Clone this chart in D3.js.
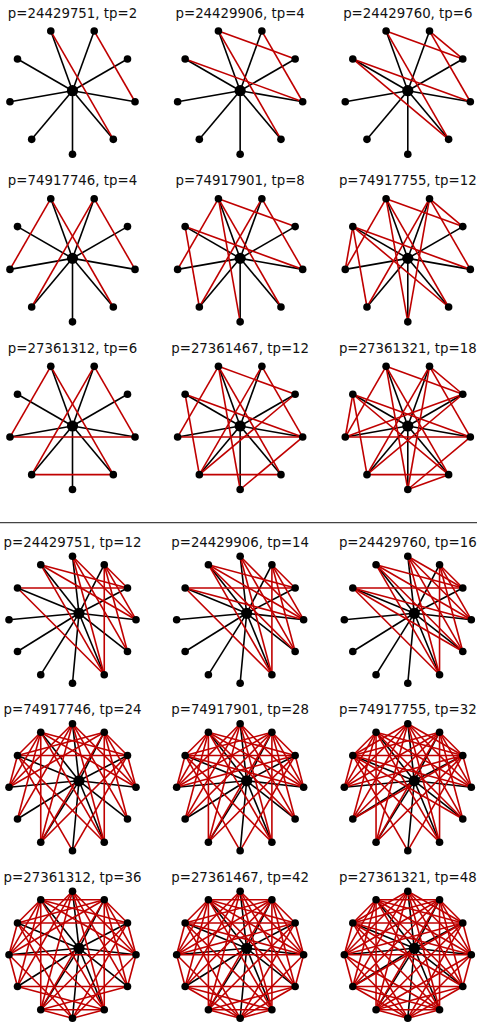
<!DOCTYPE html>
<html>
<head>
<meta charset="utf-8">
<script src="https://cdn.jsdelivr.net/npm/d3@7"></script>
<style>
  html, body { margin: 0; padding: 0; background: #fff; }
  svg { display: block; }
</style>
</head>
<body>
<svg id="chart" width="477" height="1028"></svg>
<script>
// ---------- DATA ----------
const pValues = [
  [24429751, 24429906, 24429760],
  [74917746, 74917901, 74917755],
  [27361312, 27361467, 27361321]
];
const tpTop = [[2, 4, 6], [4, 8, 12], [6, 12, 18]];
const tpBottom = [[12, 14, 16], [24, 28, 32], [36, 42, 48]];

// top half: 9 outer nodes (node k sits at angle 90 + 40k degrees, screen coordinates)
const topEdges = [
  [ [[4,8],[5,7]],
    [[4,8],[5,7],[4,6],[3,7]],
    [[4,8],[5,7],[4,6],[3,7],[5,6],[3,8]] ],
  [ [[4,8],[5,7],[4,2],[5,1]],
    [[4,8],[5,7],[4,6],[3,7],[4,2],[5,1],[3,1],[4,0]],
    [[4,8],[5,7],[4,6],[3,7],[5,6],[3,8],[4,2],[5,1],[3,1],[4,0],[3,2],[5,0]] ],
  [ [[4,8],[5,7],[4,2],[5,1],[2,7],[1,8]],
    [[4,8],[5,7],[4,6],[3,7],[4,2],[5,1],[3,1],[4,0],[2,7],[1,8],[6,1],[7,0]],
    [[4,8],[5,7],[4,6],[3,7],[5,6],[3,8],[4,2],[5,1],[3,1],[4,0],[3,2],[5,0],[2,7],[1,8],[6,1],[7,0],[6,2],[8,0]] ]
];

// bottom half: 12 outer nodes (node k at angle 90 + 30k degrees)
const bottomEdges = [
  [ [[4,8],[5,8],[7,8],[5,9],[6,9],[7,9],[6,10],[7,10],[4,11],[5,11],[6,11],[7,11]],
    [[4,8],[5,8],[7,8],[5,9],[6,9],[7,9],[6,10],[7,10],[4,11],[5,11],[6,11],[7,11],[4,9],[5,10]],
    [[4,8],[5,8],[7,8],[5,9],[6,9],[7,9],[6,10],[7,10],[4,11],[5,11],[6,11],[7,11],[4,9],[5,10],[4,10],[6,8]] ],
  [ [[4,8],[5,8],[7,8],[5,9],[6,9],[7,9],[6,10],[7,10],[4,11],[5,11],[6,11],[7,11],
     [4,7],[4,5],[3,7],[3,6],[3,5],[2,6],[2,5],[1,8],[1,7],[1,6],[1,5],[0,4],[0,8],[3,4],[8,9]],
    [[4,8],[5,8],[7,8],[5,9],[6,9],[7,9],[6,10],[7,10],[4,11],[5,11],[6,11],[7,11],[4,9],[5,10],
     [4,7],[4,5],[3,7],[3,6],[3,5],[2,6],[2,5],[1,8],[1,7],[1,6],[1,5],[3,8],[2,7],[0,4],[0,8],[3,4],[8,9]],
    [[4,8],[5,8],[7,8],[5,9],[6,9],[7,9],[6,10],[7,10],[4,11],[5,11],[6,11],[7,11],[4,9],[5,10],[4,10],[6,8],
     [4,7],[4,5],[3,7],[3,6],[3,5],[2,6],[2,5],[1,8],[1,7],[1,6],[1,5],[3,8],[2,7],[2,8],[4,6],[0,4],[0,8],[3,4],[8,9]] ],
  [ [[4,8],[5,8],[7,8],[5,9],[6,9],[7,9],[6,10],[7,10],[4,11],[5,11],[6,11],[7,11],
     [4,7],[4,5],[3,7],[3,6],[3,5],[2,6],[2,5],[1,8],[1,7],[1,6],[1,5],[0,4],[0,8],[3,4],[8,9],
     [3,9],[2,10],[1,11],[0,1],[0,11],[2,3],[9,10],[2,11],[1,10],[0,3],[0,9],[5,7]],
    [[4,8],[5,8],[7,8],[5,9],[6,9],[7,9],[6,10],[7,10],[4,11],[5,11],[6,11],[7,11],[4,9],[5,10],
     [4,7],[4,5],[3,7],[3,6],[3,5],[2,6],[2,5],[1,8],[1,7],[1,6],[1,5],[3,8],[2,7],[0,4],[0,8],[3,4],[8,9],
     [3,9],[2,10],[1,11],[0,1],[0,11],[2,3],[9,10],[2,11],[1,10],[0,3],[0,9],[5,7],[0,2],[0,10]],
    [[4,8],[5,8],[7,8],[5,9],[6,9],[7,9],[6,10],[7,10],[4,11],[5,11],[6,11],[7,11],[4,9],[5,10],[4,10],[6,8],
     [4,7],[4,5],[3,7],[3,6],[3,5],[2,6],[2,5],[1,8],[1,7],[1,6],[1,5],[3,8],[2,7],[2,8],[4,6],[0,4],[0,8],[3,4],[8,9],
     [3,9],[2,10],[1,11],[0,1],[0,11],[2,3],[9,10],[2,11],[1,10],[0,3],[0,9],[5,7],[0,2],[0,10],[1,9],[3,11]] ]
];

// ---------- LAYOUT ----------
const svg = d3.select("#chart");
const RED = "#c00000";
const colX = d3.scaleLinear().domain([0, 2]).range([72.5, 407.8]);
const topY = d3.scaleLinear().domain([0, 2]).range([90.7, 426]);
const botY = d3.scaleLinear().domain([0, 2]).range([619.7, 954.7]);
const radius = 63.5;

function drawPanel(cx, cy, nOuter, edges, title, hubDx, hubDy) {
  const ang = d3.scaleLinear().domain([0, nOuter]).range([Math.PI / 2, Math.PI / 2 + 2 * Math.PI]);
  const nodes = d3.range(nOuter).map(k => ({
    x: cx + radius * Math.cos(ang(k)),
    y: cy + radius * Math.sin(ang(k))
  }));
  const hub = { x: cx + hubDx, y: cy + hubDy };
  const g = svg.append("g");

  g.append("text")
    .attr("x", cx).attr("y", cy - 73)
    .attr("text-anchor", "middle")
    .attr("font-family", "DejaVu Sans, sans-serif")
    .attr("font-size", "13.33px")
    .attr("fill", "#111")
    .text(title);

  g.selectAll("line.spoke").data(nodes).join("line")
    .attr("class", "spoke")
    .attr("x1", hub.x).attr("y1", hub.y)
    .attr("x2", d => d.x).attr("y2", d => d.y)
    .attr("stroke", "#000").attr("stroke-width", 1.6);

  g.selectAll("line.chord").data(edges).join("line")
    .attr("class", "chord")
    .attr("x1", d => nodes[d[0]].x).attr("y1", d => nodes[d[0]].y)
    .attr("x2", d => nodes[d[1]].x).attr("y2", d => nodes[d[1]].y)
    .attr("stroke", RED).attr("stroke-width", 1.6);

  g.selectAll("circle.outer").data(nodes).join("circle")
    .attr("class", "outer")
    .attr("cx", d => d.x).attr("cy", d => d.y).attr("r", 3.8)
    .attr("fill", "#000");

  g.append("circle")
    .attr("cx", hub.x).attr("cy", hub.y).attr("r", 5.6)
    .attr("fill", "#000");
}

for (let r = 0; r < 3; r++) {
  for (let c = 0; c < 3; c++) {
    drawPanel(colX(c), topY(r), 9, topEdges[r][c],
      `p=${pValues[r][c]}, tp=${tpTop[r][c]}`, 0, 0);
  }
}
for (let r = 0; r < 3; r++) {
  for (let c = 0; c < 3; c++) {
    drawPanel(colX(c), botY(r), 12, bottomEdges[r][c],
      `p=${pValues[r][c]}, tp=${tpBottom[r][c]}`, 6.5, -6.4);
  }
}

svg.append("line")
  .attr("x1", 0).attr("x2", 477)
  .attr("y1", 522.7).attr("y2", 522.7)
  .attr("stroke", "#444").attr("stroke-width", 1.3);
</script>
</body>
</html>
